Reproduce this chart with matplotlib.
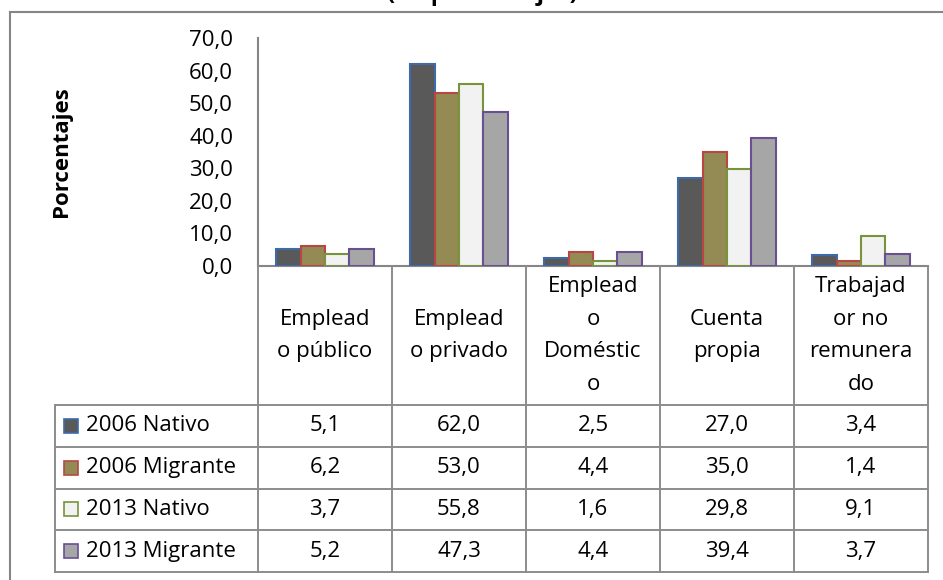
import numpy as np
import matplotlib.pyplot as plt
from matplotlib.lines import Line2D
from matplotlib.patches import Rectangle

plt.rcParams['font.family'] = ['Open Sans', 'DejaVu Sans']

# data
categories = ['Emplead\no público', 'Emplead\no privado', 'Emplead\no\nDoméstic\no',
              'Cuenta\npropia', 'Trabajad\nor no\nremunera\ndo']
series = ['2006 Nativo', '2006 Migrante', '2013 Nativo', '2013 Migrante']
nativo_2006 = [5.1, 62.0, 2.5, 27.0, 3.4]
migrante_2006 = [6.2, 53.0, 4.4, 35.0, 1.4]
nativo_2013 = [3.7, 55.8, 1.6, 29.8, 9.1]
migrante_2013 = [5.2, 47.3, 4.4, 39.4, 3.7]
values = [nativo_2006, migrante_2006, nativo_2013, migrante_2013]
yticks = [0, 10, 20, 30, 40, 50, 60, 70]

fills = ['#595959', '#948A54', '#F2F2F2', '#A6A6A6']
edges = ['#3E6AAA', '#B84744', '#77933C', '#6A4F93']
grid_col = '#8C8C8C'

W, H = 943, 580
fig = plt.figure(figsize=(W / 100, H / 100), dpi=100)


def box(x0, y0, x1, y1):
    # pixel box (top-left origin) -> figure fraction
    return [x0 / W, 1 - y1 / H, (x1 - x0) / W, (y1 - y0) / H]


def fx(px):
    return px / W


def fy(py):
    return 1 - py / H


# outer chart border (extends past the picture)
fig.add_artist(Line2D([fx(10), fx(10)], [fy(12), fy(600)], color='#868686', lw=1.5,
                      transform=fig.transFigure))
fig.add_artist(Line2D([fx(10), fx(960)], [fy(12), fy(12)], color='#868686', lw=1.5,
                      transform=fig.transFigure))

# title, mostly cut off at the top like in the source
fig.text(fx(482), fy(0), '(en porcentajes)', ha='center', va='baseline',
         fontsize=17, fontweight='bold')

# bars
ax = fig.add_axes(box(258, 38, 928, 266))
n = len(categories)
x = np.arange(n)
bw = 1 / 5.5
for i, vals in enumerate(values):
    ax.bar(x + (i - 1.5) * bw, vals, bw, color=fills[i], edgecolor=edges[i], lw=1.5, zorder=3)

ax.set_xlim(-0.5, n - 0.5)
ax.set_ylim(0, 70)
ax.set_yticks(yticks)
ax.set_yticklabels([f'{v:.1f}'.replace('.', ',') for v in yticks], fontsize=16)
ax.tick_params(axis='y', length=0, pad=18)
ax.set_xticks([])
for s in ['top', 'right']:
    ax.spines[s].set_visible(False)
for s in ['left', 'bottom']:
    ax.spines[s].set_color('#868686')
    ax.spines[s].set_linewidth(1.5)

fig.text(fx(62), fy(152), 'Porcentajes', rotation=90, ha='center', va='center',
         fontsize=16, fontweight='bold')

# data table below the plot
lab_w = (258 - 55) / 134
tax = fig.add_axes(box(55, 266, 928, 572))
tax.set_xlim(-0.5 - lab_w, n - 0.5)
tax.set_ylim(306, 0)
tax.axis('off')

head_h = 139
row_h = (306 - head_h) / len(series)
left = -0.5 - lab_w
kw = dict(color=grid_col, lw=1.4, clip_on=False, solid_capstyle='projecting')

# vertical lines
for b in np.arange(n + 1) - 0.5:
    tax.plot([b, b], [0, 306], **kw)
tax.plot([left, left], [head_h, 306], **kw)
# horizontal lines
for k in range(len(series) + 1):
    yy = head_h + k * row_h
    tax.plot([left, n - 0.5], [yy, yy], **kw)

# header labels
for i, c in enumerate(categories):
    tax.text(i, head_h / 2, c, ha='center', va='center', fontsize=16, linespacing=1.72)

# rows
px_u = 1 / 134
for k, name in enumerate(series):
    yc = head_h + (k + 0.5) * row_h
    tax.add_patch(Rectangle((left + 9 * px_u, yc - 7), 14 * px_u, 14,
                            facecolor=fills[k], edgecolor=edges[k], lw=1.2))
    tax.text(left + 31 * px_u, yc, name, ha='left', va='center', fontsize=16)
    for i, v in enumerate(values[k]):
        tax.text(i, yc, f'{v:.1f}'.replace('.', ','), ha='center', va='center', fontsize=16)

fig.savefig('out.png', dpi=100)
